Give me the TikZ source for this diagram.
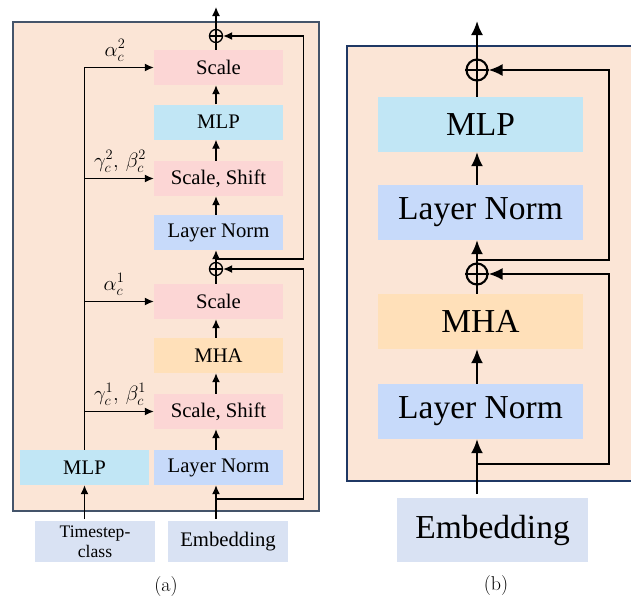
\documentclass[tikz,border=0pt]{standalone}
\usepackage{fontspec}
\newfontfamily\tms{Liberation Serif}
\usetikzlibrary{arrows.meta}
\definecolor{peach}{HTML}{FBE5D6}
\definecolor{pinkc}{HTML}{FCD6D5}
\definecolor{mlpc}{HTML}{C1E6F5}
\definecolor{lnc}{HTML}{C7DAFA}
\definecolor{mhac}{HTML}{FFE0B9}
\definecolor{inc}{HTML}{D9E2F3}
\definecolor{borda}{HTML}{44546A}
\definecolor{bordb}{HTML}{1F3864}
\begin{document}
\begin{tikzpicture}[x=1pt,y=-1pt,
  boxa/.style={minimum width=129pt,minimum height=35pt,inner sep=0pt,font=\tms\fontsize{20.7}{24}\selectfont},
  boxb/.style={minimum width=205pt,minimum height=55pt,inner sep=0pt,font=\tms\fontsize{33.5}{38}\selectfont},
  inboxa/.style={fill=inc,minimum width=120pt,minimum height=41pt,inner sep=0pt,align=center},
  conna/.style={line width=1.3pt},
  arra/.style={conna,arrows={-Latex[length=9pt,width=8pt]}},
  connb/.style={line width=2.1pt},
  arrb/.style={connb,arrows={-Latex[length=14pt,width=12pt]}},
  plusa/.style={circle,draw,line width=1.3pt,minimum size=13pt,inner sep=0pt},
  plusb/.style={circle,draw,line width=2.1pt,minimum size=21pt,inner sep=0pt},
  mlab/.style={anchor=base,inner sep=0pt,font=\fontsize{22}{26}\selectfont},
  captext/.style={font=\fontsize{20}{24}\selectfont,inner sep=0pt}
]
\path[use as bounding box, clip] (0,0) rectangle (631,603);
\fill[white] (0,0) rectangle (631,603);

% ---------- panel (a) ----------
\draw[line width=1.3pt,draw=borda,fill=peach] (13,22) rectangle (319,511);
\node[boxa,fill=pinkc] (sa2)  at (218.5,67.5)  {Scale};
\node[boxa,fill=mlpc]  (mlpa) at (218.5,122)   {MLP};
\node[boxa,fill=pinkc] (ssa2) at (218.5,178.5) {Scale, Shift};
\node[boxa,fill=lnc]   (lna2) at (218.5,232.5) {Layer Norm};
\node[boxa,fill=pinkc] (sa1)  at (218.5,301.5) {Scale};
\node[boxa,fill=mhac]  (mhaa) at (218.5,355.5) {MHA};
\node[boxa,fill=pinkc] (ssa1) at (218.5,411.5) {Scale, Shift};
\node[boxa,fill=lnc]   (lna1) at (218.5,467.5) {Layer Norm};
\node[boxa,fill=mlpc]  (mlpl) at (84.5,467.5)  {MLP};
\node[inboxa,font=\tms\fontsize{17.6}{20}\selectfont] (ts) at (95,541.5) {Timestep-\\class};
\node[inboxa,font=\tms\fontsize{20.7}{24}\selectfont] (emba) at (228,541.5) {Embedding};

\node[plusa] (p1) at (216,36) {};
\node[plusa] (p2) at (216,269) {};
\draw[conna] (p1.west) -- (p1.east);
\draw[conna] (p2.west) -- (p2.east);

\coordinate (topa) at (216,7);
\coordinate (ea) at (216,519);
\coordinate (ta) at (84.5,519);
\coordinate (ja1) at (216,259);
\coordinate (ra1) at (303.5,259);
\coordinate (ja2) at (216,499);
\coordinate (ra2) at (303.5,499);

\draw[arra] (sa2.north -| p1) -- (topa);
\draw[arra] (mlpa.north -| p1) -- (sa2.south -| p1);
\draw[arra] (ssa2.north -| p1) -- (mlpa.south -| p1);
\draw[arra] (lna2.north -| p1) -- (ssa2.south -| p1);
\draw[arra] (sa1.north -| p1) -- (lna2.south -| p1);
\draw[arra] (mhaa.north -| p1) -- (sa1.south -| p1);
\draw[arra] (ssa1.north -| p1) -- (mhaa.south -| p1);
\draw[arra] (lna1.north -| p1) -- (ssa1.south -| p1);
\draw[arra] (ea) -- (lna1.south -| p1);
\draw[arra] (ja1) -- (ra1) |- (p1.east);
\draw[arra] (ja2) -- (ra2) |- (p2.east);

\draw[arra] (ta) -- (mlpl.south);
\draw[arra] (mlpl.north) |- (sa2.west);
\draw[arra] (mlpl.north |- ssa2.west) -- (ssa2.west);
\draw[arra] (mlpl.north |- sa1.west) -- (sa1.west);
\draw[arra] (mlpl.north |- ssa1.west) -- (ssa1.west);

\node[mlab] (l1) at (115,56)  {$\alpha_c^2$};
\node[mlab] (l2) at (120,167) {$\gamma_c^2,\,\beta_c^2$};
\node[mlab] (l3) at (114,290) {$\alpha_c^1$};
\node[mlab] (l4) at (120,400) {$\gamma_c^1,\,\beta_c^1$};

\node[captext] (capa) at (166,586) {(a)};

% ---------- panel (b) ----------
\draw[line width=2pt,draw=bordb,fill=peach] (347,45.5) rectangle (660,481);
\node[boxb,fill=mlpc] (mlpb) at (480.5,124.5) {MLP};
\node[boxb,fill=lnc]  (lnb2) at (480.5,212.5) {Layer Norm};
\node[boxb,fill=mhac] (mhab) at (480.5,321.5) {MHA};
\node[boxb,fill=lnc]  (lnb1) at (480.5,411.5) {Layer Norm};
\node[fill=inc,minimum width=191pt,minimum height=64pt,inner sep=0pt,font=\tms\fontsize{33.5}{38}\selectfont] (embb) at (492.5,530) {Embedding};

\node[plusb] (q1) at (477,70) {};
\node[plusb] (q2) at (477,274) {};
\draw[connb] (q1.west) -- (q1.east);
\draw[connb] (q2.west) -- (q2.east);

\coordinate (topb) at (477,21);
\coordinate (eb) at (477,494);
\coordinate (jb1) at (477,260);
\coordinate (rb1) at (609,260);
\coordinate (jb2) at (477,464);
\coordinate (rb2) at (609,464);

\draw[arrb] (mlpb.north -| q1) -- (topb);
\draw[arrb] (lnb2.north -| q1) -- (mlpb.south -| q1);
\draw[arrb] (mhab.north -| q1) -- (lnb2.south -| q1);
\draw[arrb] (lnb1.north -| q1) -- (mhab.south -| q1);
\draw[arrb] (eb) -- (lnb1.south -| q1);
\draw[arrb] (jb1) -- (rb1) |- (q1.east);
\draw[arrb] (jb2) -- (rb2) |- (q2.east);

\node[captext] (capb) at (496,585.5) {(b)};
\end{tikzpicture}
\end{document}
